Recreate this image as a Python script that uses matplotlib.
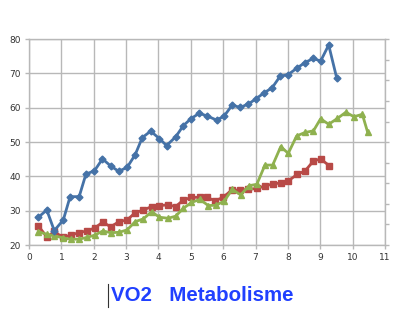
import matplotlib
matplotlib.use('Agg')
import matplotlib.pyplot as plt
from matplotlib.lines import Line2D

# ---Data---
blue_x = [0.29, 0.55, 0.78, 1.06, 1.27, 1.55, 1.76, 2.02, 2.27, 2.53, 2.77, 3.03, 3.28, 3.5,
          3.76, 4.03, 4.25, 4.53, 4.77, 5.0, 5.26, 5.51, 5.8, 6.03, 6.28, 6.52, 6.78, 7.01,
          7.27, 7.51, 7.76, 8.01, 8.27, 8.53, 8.79, 9.01, 9.26, 9.51]
blue_y = [28.1, 30.2, 24.2, 27.3, 34.1, 34.1, 40.7, 41.6, 45.1, 43.0, 41.5, 42.6, 46.3, 51.3,
          53.2, 51.0, 49.0, 51.5, 54.8, 56.8, 58.4, 57.6, 56.4, 57.6, 60.8, 60.1, 61.1, 62.6,
          64.4, 65.8, 69.2, 69.7, 71.5, 73.2, 74.4, 73.6, 78.3, 68.6]

red_x = [0.29, 0.57, 0.78, 1.04, 1.29, 1.55, 1.78, 2.04, 2.28, 2.52, 2.78, 3.03, 3.28, 3.53,
         3.79, 4.03, 4.3, 4.53, 4.77, 5.02, 5.28, 5.49, 5.75, 6.0, 6.26, 6.52, 6.78, 7.04,
         7.29, 7.53, 7.78, 8.01, 8.29, 8.53, 8.79, 9.01, 9.28]
red_y = [25.5, 22.2, 24.0, 22.2, 22.9, 23.6, 24.1, 25.0, 26.7, 25.3, 26.8, 27.3, 29.4, 30.2,
         31.2, 31.5, 31.7, 31.2, 33.1, 33.9, 33.9, 33.9, 32.9, 33.9, 36.0, 36.0, 36.2, 36.5,
         37.2, 37.8, 38.1, 38.7, 40.6, 41.6, 44.5, 45.1, 43.1]

green_x = [0.29, 0.55, 0.78, 1.04, 1.29, 1.55, 1.78, 2.04, 2.28, 2.52, 2.78, 3.03, 3.28, 3.53,
           3.79, 4.03, 4.3, 4.53, 4.77, 5.02, 5.28, 5.54, 5.78, 6.03, 6.28, 6.54, 6.8, 7.04,
           7.29, 7.53, 7.78, 8.01, 8.27, 8.53, 8.79, 9.01, 9.26, 9.53, 9.79, 10.04, 10.3, 10.46]
green_y = [23.9, 23.1, 22.7, 22.1, 21.7, 21.7, 22.2, 22.9, 24.1, 23.6, 23.7, 24.4, 26.8, 27.6,
           29.7, 28.1, 27.8, 28.4, 30.7, 32.4, 33.3, 31.5, 31.6, 32.8, 36.2, 34.6, 37.3, 37.7,
           43.3, 43.3, 48.7, 46.7, 51.8, 52.8, 53.3, 56.8, 55.2, 56.9, 58.7, 57.4, 58.1, 53.0]

x_ticks = list(range(0, 12))
y_ticks = [20, 30, 40, 50, 60, 70, 80]
title_text = 'VO2   Metabolisme'

# ---Figure---
fig = plt.figure(figsize=(4.0, 3.32), dpi=100)
ax = fig.add_axes([0.0725, 0.262, 0.89, 0.620])

grid_col = '#b8b8b8'
ax.plot(blue_x, blue_y, color='#4572a7', lw=2.0, marker='D', ms=3.5, zorder=4)
ax.plot(red_x, red_y, color='#b84a47', lw=2.0, marker='s', ms=5.0, zorder=3)
ax.plot(green_x, green_y, color='#8fb14f', lw=2.0, marker='^', ms=5.0, zorder=3)

ax.set_xlim(0, 11)
ax.set_ylim(20, 80)
ax.set_xticks(x_ticks)
ax.set_yticks(y_ticks)
ax.grid(True, color=grid_col, lw=1.0)
ax.set_axisbelow(True)
for s in ax.spines.values():
    s.set_color(grid_col)
    s.set_linewidth(1.0)
ax.tick_params(axis='both', labelsize=6.5, colors=grid_col, labelcolor='#333333',
               length=3, width=1.0, pad=3)

# right axis: ticks only, no labels
ax2 = ax.twinx()
ax2.set_ylim(0, 10)
ax2.set_yticks(range(0, 11))
ax2.set_yticklabels([])
ax2.tick_params(axis='y', colors=grid_col, length=3, width=1.0)
for s in ax2.spines.values():
    s.set_visible(False)

# ---Title below the chart---
fig.text(0.277, 0.111, title_text, ha='left', va='center', color='#2040ff',
         fontsize=14.8, fontweight='bold', family=['Liberation Sans', 'DejaVu Sans'])
fig.add_artist(Line2D([0.27, 0.27], [0.075, 0.145], color='#333333', lw=0.8))

fig.savefig('out.png', dpi=100)
